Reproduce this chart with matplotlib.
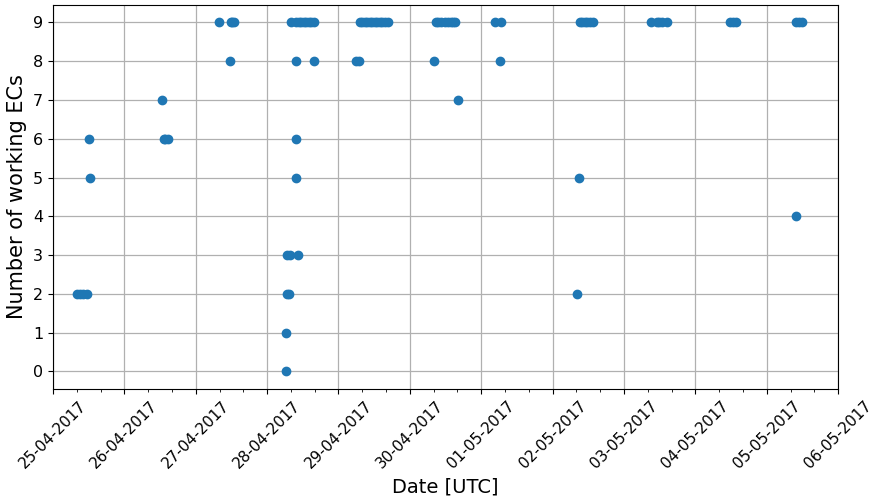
import matplotlib
matplotlib.use('Agg')
import matplotlib.pyplot as plt
import matplotlib.dates as mdates
import pandas as pd

# timestamps (UTC) of each reading and the number of working ECs at that time
times = [
    '2017-04-25 08:05', '2017-04-25 09:00', '2017-04-25 10:00', '2017-04-25 11:25',
    '2017-04-25 12:00', '2017-04-25 12:30',
    '2017-04-26 12:40', '2017-04-26 13:10', '2017-04-26 13:50', '2017-04-26 14:40',
    '2017-04-27 07:55', '2017-04-27 11:30', '2017-04-27 11:45', '2017-04-27 12:15',
    '2017-04-27 12:45',
    '2017-04-28 06:15', '2017-04-28 06:15', '2017-04-28 06:40', '2017-04-28 07:15',
    '2017-04-28 06:40', '2017-04-28 07:40', '2017-04-28 10:20', '2017-04-28 09:40',
    '2017-04-28 09:40', '2017-04-28 09:40', '2017-04-28 15:40',
    '2017-04-28 08:00', '2017-04-28 09:45', '2017-04-28 10:40', '2017-04-28 11:30',
    '2017-04-28 12:20', '2017-04-28 13:10', '2017-04-28 14:00', '2017-04-28 14:50',
    '2017-04-28 15:50',
    '2017-04-29 05:45', '2017-04-29 07:00',
    '2017-04-29 07:10', '2017-04-29 08:00', '2017-04-29 08:50', '2017-04-29 09:40',
    '2017-04-29 10:30', '2017-04-29 11:20', '2017-04-29 12:10', '2017-04-29 13:00',
    '2017-04-29 13:50', '2017-04-29 14:40', '2017-04-29 15:40', '2017-04-29 16:35',
    '2017-04-30 08:10', '2017-04-30 16:05',
    '2017-04-30 08:40', '2017-04-30 09:30', '2017-04-30 10:20', '2017-04-30 11:40',
    '2017-04-30 12:40', '2017-04-30 13:40', '2017-04-30 14:30', '2017-04-30 15:10',
    '2017-05-01 04:35', '2017-05-01 06:30', '2017-05-01 06:15',
    '2017-05-02 08:10', '2017-05-02 08:50',
    '2017-05-02 09:10', '2017-05-02 10:00', '2017-05-02 10:50', '2017-05-02 11:40',
    '2017-05-02 12:30', '2017-05-02 13:25',
    '2017-05-03 09:10', '2017-05-03 11:00', '2017-05-03 11:45', '2017-05-03 12:40',
    '2017-05-03 14:25',
    '2017-05-04 11:30', '2017-05-04 12:30', '2017-05-04 13:40',
    '2017-05-05 09:50', '2017-05-05 09:50', '2017-05-05 10:50', '2017-05-05 12:00',
]
working_ecs = [
    2, 2, 2, 2,
    6, 5,
    7, 6, 6, 6,
    9, 8, 9, 9,
    9,
    0, 1, 2, 2,
    3, 3, 3, 5,
    6, 8, 8,
    9, 9, 9, 9,
    9, 9, 9, 9,
    9,
    8, 8,
    9, 9, 9, 9,
    9, 9, 9, 9,
    9, 9, 9, 9,
    8, 7,
    9, 9, 9, 9,
    9, 9, 9, 9,
    9, 9, 8,
    2, 5,
    9, 9, 9, 9,
    9, 9,
    9, 9, 9, 9,
    9,
    9, 9, 9,
    4, 9, 9, 9,
]

dates = pd.to_datetime(times)

fig = plt.figure(figsize=(8.74, 5.03), dpi=100)
ax = fig.add_axes([0.0606, 0.227, 0.8984, 0.763])

ax.scatter(dates, working_ecs, s=36, color='#1f77b4', zorder=3)

ax.set_xlim(pd.Timestamp('2017-04-25'), pd.Timestamp('2017-05-06'))
ax.set_ylim(-0.45, 9.45)
ax.set_yticks(range(10))

# one major tick per day, minor ticks every 8 hours
ax.xaxis.set_major_locator(mdates.DayLocator())
ax.xaxis.set_minor_locator(mdates.HourLocator(byhour=[8, 16]))
ax.xaxis.set_major_formatter(mdates.DateFormatter('%d-%m-%Y'))
plt.setp(ax.get_xticklabels(), rotation=45, ha='center')

ax.tick_params(axis='x', labelsize=11)
ax.tick_params(axis='y', labelsize=11.5)
ax.grid(True, color='#b0b0b0', linewidth=0.9)

ax.set_xlabel('Date [UTC]', fontsize=14)
ax.set_ylabel('Number of working ECs', fontsize=15)

fig.savefig('out.png', dpi=100)
